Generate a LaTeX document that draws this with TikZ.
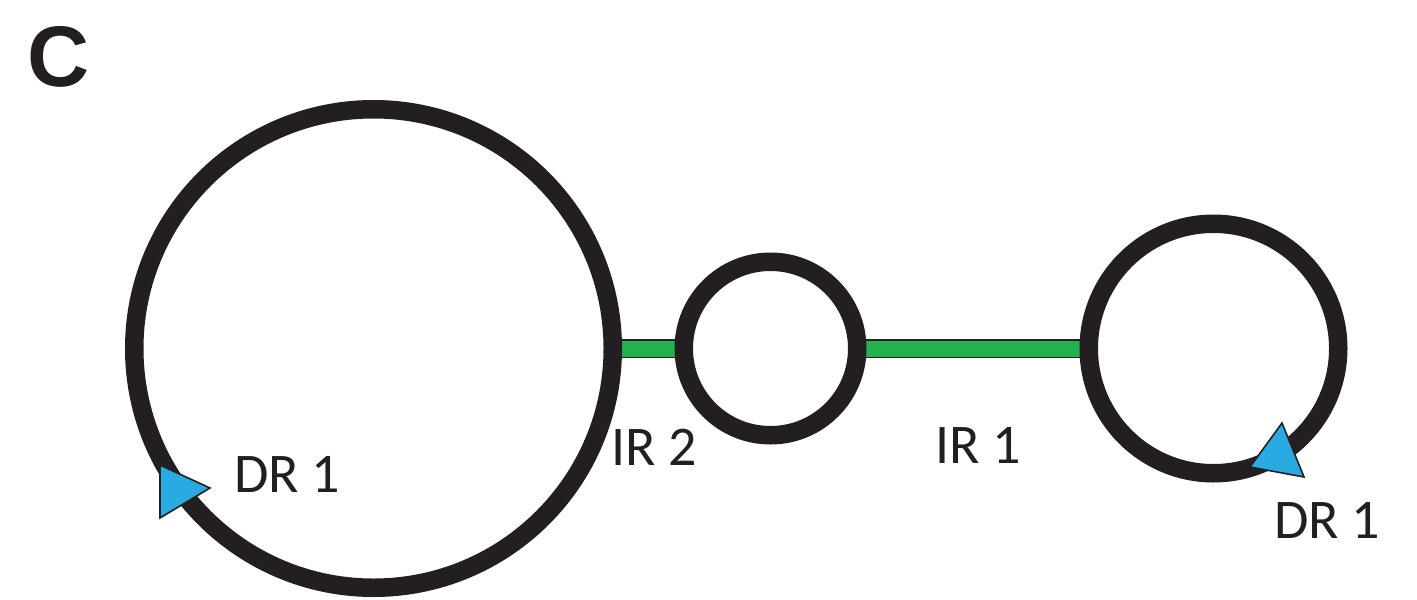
\documentclass[tikz,border=0pt]{standalone}
\usepackage{fontspec}
\setmainfont{Carlito}
\newfontfamily\panelfont{Liberation Sans}
\usetikzlibrary{backgrounds}

\definecolor{ink}{RGB}{35,31,32}
\definecolor{irgreen}{RGB}{34,177,76}
\definecolor{drblue}{RGB}{41,171,226}

\tikzset{
  ring/.style={circle, draw=ink, line width=18.5pt, fill=white, inner sep=0pt, outer sep=0pt},
  irbar/.style={draw=ink, line width=1.6pt, double=irgreen, double distance=16pt},
  drhead/.style={fill=drblue, draw=ink, line width=1.6pt, line join=miter},
  lbl/.style={anchor=base west, inner sep=0pt, text=ink, font=\fontsize{56}{56}\selectfont},
}

\begin{document}
\begin{tikzpicture}[x=1pt, y=-1pt]
  \useasboundingbox (0,0) rectangle (1417,600);

  % panel letter
  \node[anchor=base west, inner sep=0pt, text=ink, font=\panelfont\bfseries\fontsize{86}{86}\selectfont] (panel) at (27,86) {C};

  % the three rings
  \node[ring, minimum size=478.5pt] (big) at (373.5,348.5) {};
  \node[ring, minimum size=173.5pt] (mid) at (770.5,348.5) {};
  \node[ring, minimum size=249.5pt] (small) at (1213.5,348.5) {};

  % inverted-repeat links, behind the rings
  \begin{pgfonlayer}{background}
    \draw[irbar] (big.center) -- (mid.center);
    \draw[irbar] (mid.center) -- (small.center);
  \end{pgfonlayer}

  % direct-repeat arrowheads
  \draw[drhead] (160,465) -- (210,488) -- (160,518) -- cycle;
  \draw[drhead] (1282,423) -- (1304,477) -- (1250,467) -- cycle;

  % labels
  \node[lbl] (ir2) at (611,465) {IR 2};
  \node[lbl] (ir1) at (935,463) {IR 1};
  \node[lbl] (dr1a) at (234,492) {DR 1};
  \node[lbl] (dr1b) at (1274,538) {DR 1};
\end{tikzpicture}
\end{document}
